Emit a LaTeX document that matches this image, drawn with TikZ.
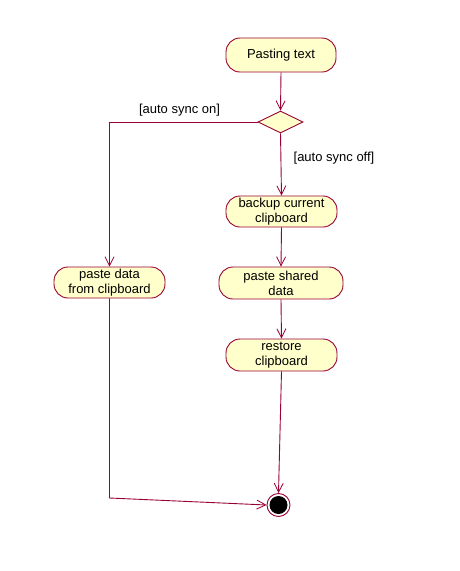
\documentclass[tikz,border=0pt]{standalone}
\usepackage{fontspec}
\setmainfont{Liberation Sans}
\usetikzlibrary{arrows.meta,shapes.geometric}
\definecolor{umlline}{HTML}{990033}
\definecolor{umlfill}{HTML}{FFFFCC}
\begin{document}
\begin{tikzpicture}[x=1pt,y=-1pt,
  font=\fontsize{13}{15}\selectfont,
  activity/.style={draw=umlline, fill=umlfill, line width=0.9pt,
    rounded corners=14pt, minimum height=31pt, align=center, inner sep=0pt},
  decision/.style={draw=umlline, fill=umlfill, line width=0.9pt, diamond,
    minimum width=45pt, minimum height=22pt, inner sep=0pt},
  flow/.style={draw=umlline, line width=0.9pt,
    -{Straight Barb[length=9pt,width=9pt,line width=0.8pt]}},
  guard/.style={text=black}]
\useasboundingbox (0,0) rectangle (460,571);

% activities
\node[activity, minimum width=110pt, minimum height=34pt] (paste) at (281,55) {Pasting text};
\node[decision] (sync) at (280.5,122) {};
\node[activity, minimum width=111pt] (backup) at (281.5,211.5) {backup current\\clipboard};
\node[activity, minimum width=124pt, minimum height=32pt] (shared) at (281,283) {paste shared\\data};
\node[activity, minimum width=111pt, minimum height=32pt] (restore) at (281.5,355) {restore\\clipboard};
\node[activity, minimum width=111pt] (fromclip) at (109.5,282.5) {paste data\\from clipboard};

% final state
\node[circle, draw=umlline, line width=0.9pt, fill=white, minimum size=23pt, inner sep=0pt] (final) at (278.5,505) {};
\node[circle, fill=black, minimum size=18pt, inner sep=0pt] (finaldot) at (final.center) {};

% guards
\node[guard] (on) at (179.5,110) {[auto sync on]};
\node[guard] (off) at (334,158) {[auto sync off]};

% transitions
\draw[flow] (paste.south) -- (sync.north);
\draw[flow] (sync.west) -| (fromclip.north);
\draw[flow] (sync.south) -- (backup.north);
\draw[flow] (backup.south) -- (shared.north);
\draw[flow] (shared.south) -- (restore.north);
\coordinate (bend) at (fromclip.south |- 0,498);
\draw[flow] (fromclip.south) -- (bend) -- (final.west);
\draw[flow] (restore.south) -- (final.north);
\end{tikzpicture}
\end{document}
